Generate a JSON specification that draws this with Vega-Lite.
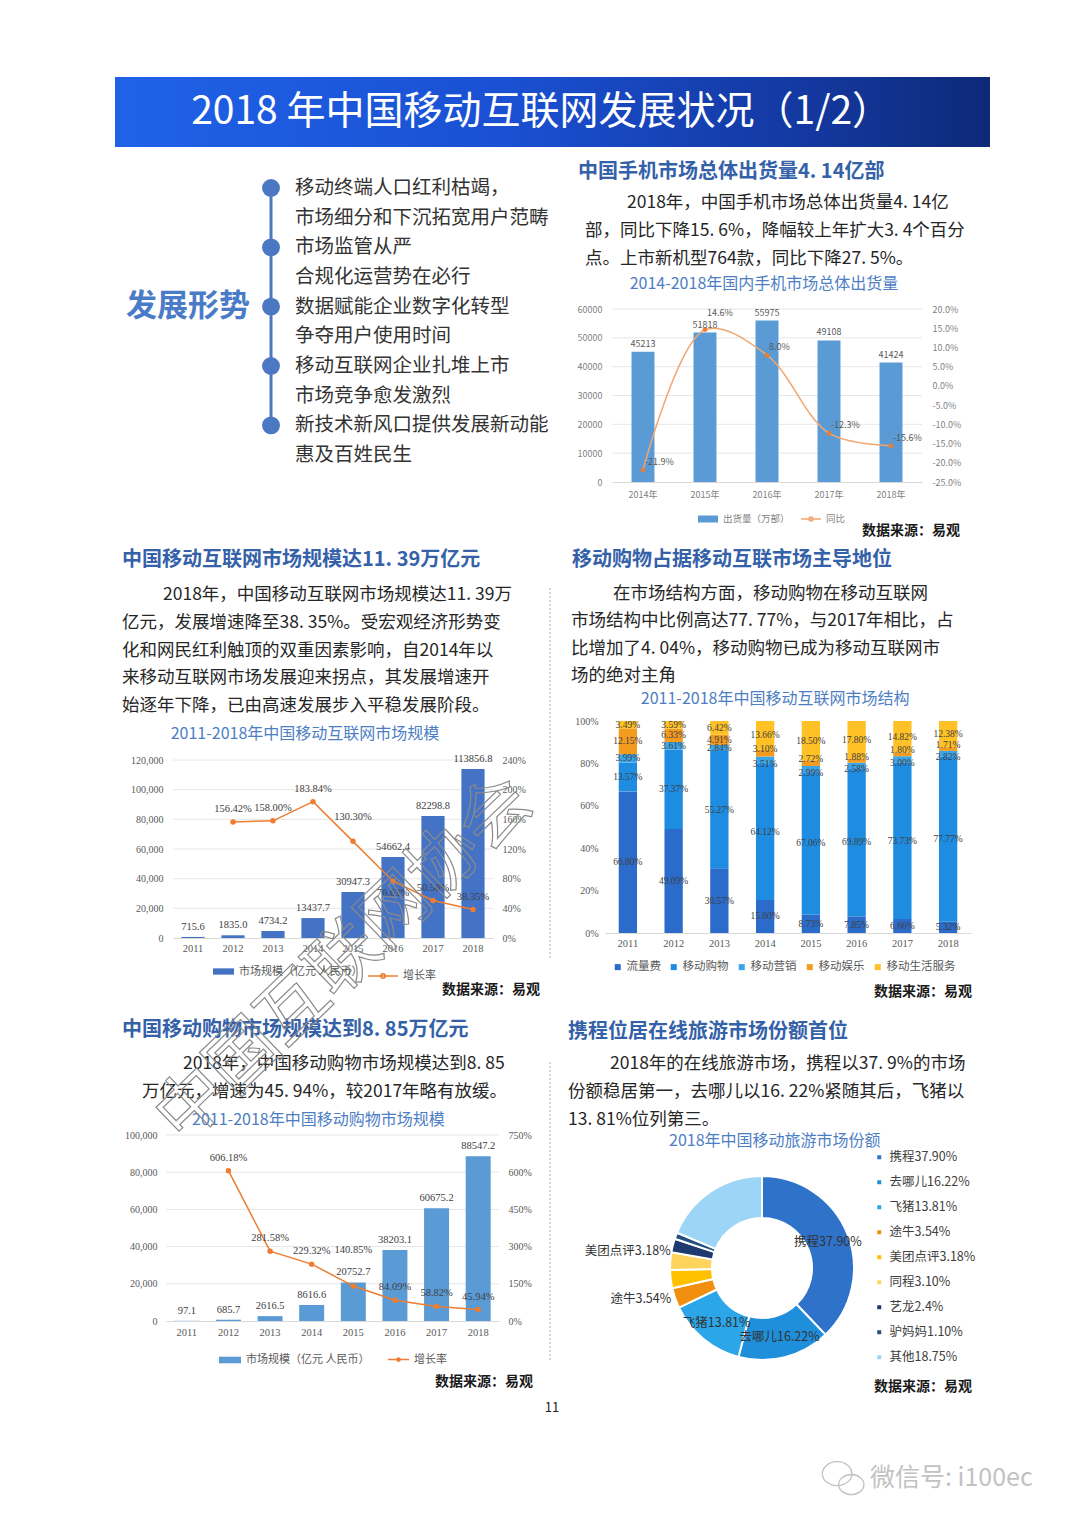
{
"$schema":"https://vega.github.io/schema/vega-lite/v6.json",
"width":1080,"height":1526,"autosize":{"type":"none"},"padding":0,"background":"#ffffff",
"config":{
 "view":{"stroke":null},
 "font":"Noto Sans CJK SC",
 "locale":{"number":{"decimal":".","thousands":",","grouping":[3],"currency":["",""],"minus":"-"}},
 "axis":{"grid":false,"ticks":false,"tickSize":0,"domain":false,"labelFont":"Noto Sans CJK SC","labelColor":"#7f7f7f","labelFontSize":9},
 "legend":{"padding":0,"labelFont":"Noto Sans CJK SC","labelColor":"#595959"},
 "text":{"font":"Noto Sans CJK SC"}
},
"datasets":{
 "trends":[{"i":0,"t":"移动终端人口红利枯竭，"},{"i":1,"t":"市场细分和下沉拓宽用户范畴"},{"i":2,"t":"市场监管从严"},{"i":3,"t":"合规化运营势在必行"},{"i":4,"t":"数据赋能企业数字化转型"},{"i":5,"t":"争夺用户使用时间"},{"i":6,"t":"移动互联网企业扎堆上市"},{"i":7,"t":"市场竞争愈发激烈"},{"i":8,"t":"新技术新风口提供发展新动能"},{"i":9,"t":"惠及百姓民生"}],
 "p1":[{"i":0,"t":"2018年，中国手机市场总体出货量4. 14亿"},{"i":1,"t":"部，同比下降15. 6%，降幅较上年扩大3. 4个百分"},{"i":2,"t":"点。上市新机型764款，同比下降27. 5%。"}],
 "p2":[{"i":0,"t":"2018年，中国移动互联网市场规模达11. 39万"},{"i":1,"t":"亿元，发展增速降至38. 35%。受宏观经济形势变"},{"i":2,"t":"化和网民红利触顶的双重因素影响，自2014年以"},{"i":3,"t":"来移动互联网市场发展迎来拐点，其发展增速开"},{"i":4,"t":"始逐年下降，已由高速发展步入平稳发展阶段。"}],
 "p3":[{"i":0,"t":"在市场结构方面，移动购物在移动互联网"},{"i":1,"t":"市场结构中比例高达77. 77%，与2017年相比，占"},{"i":2,"t":"比增加了4. 04%，移动购物已成为移动互联网市"},{"i":3,"t":"场的绝对主角"}],
 "p4":[{"i":0,"t":"2018年，中国移动购物市场规模达到8. 85"},{"i":1,"t":"万亿元，增速为45. 94%，较2017年略有放缓。"}],
 "p5":[{"i":0,"t":"2018年的在线旅游市场，携程以37. 9%的市场"},{"i":1,"t":"份额稳居第一，去哪儿以16. 22%紧随其后，飞猪以"},{"i":2,"t":"13. 81%位列第三。"}],
 "phone":[{"year":"2014年","ship":45213,"yoy":-0.219},{"year":"2015年","ship":51818,"yoy":0.146},{"year":"2016年","ship":55975,"yoy":0.080},{"year":"2017年","ship":49108,"yoy":-0.123},{"year":"2018年","ship":41424,"yoy":-0.156}],
 "mi":[{"year":"2011","v":715.6,"g":null},{"year":"2012","v":1835.0,"g":1.5642},{"year":"2013","v":4734.2,"g":1.5800},{"year":"2014","v":13437.7,"g":1.8384},{"year":"2015","v":30947.3,"g":1.3030},{"year":"2016","v":54662.4,"g":0.7663},{"year":"2017","v":82298.8,"g":0.5056},{"year":"2018","v":113856.8,"g":0.3835}],
 "shop":[{"year":"2011","v":97.1,"g":null},{"year":"2012","v":685.7,"g":6.0618},{"year":"2013","v":2616.5,"g":2.8158},{"year":"2014","v":8616.6,"g":2.2932},{"year":"2015","v":20752.7,"g":1.4085},{"year":"2016","v":38203.1,"g":0.8409},{"year":"2017","v":60675.2,"g":0.5882},{"year":"2018","v":88547.2,"g":0.4594}],
 "struct":[
  {"year":"2011","cat":"流量费","k":1,"v":0.6680},{"year":"2011","cat":"移动购物","k":2,"v":0.1357},{"year":"2011","cat":"移动营销","k":3,"v":0.0399},{"year":"2011","cat":"移动娱乐","k":4,"v":0.1215},{"year":"2011","cat":"移动生活服务","k":5,"v":0.0349},
  {"year":"2012","cat":"流量费","k":1,"v":0.4909},{"year":"2012","cat":"移动购物","k":2,"v":0.3737},{"year":"2012","cat":"移动营销","k":3,"v":0.0361},{"year":"2012","cat":"移动娱乐","k":4,"v":0.0633},{"year":"2012","cat":"移动生活服务","k":5,"v":0.0359},
  {"year":"2013","cat":"流量费","k":1,"v":0.3057},{"year":"2013","cat":"移动购物","k":2,"v":0.5527},{"year":"2013","cat":"移动营销","k":3,"v":0.0284},{"year":"2013","cat":"移动娱乐","k":4,"v":0.0491},{"year":"2013","cat":"移动生活服务","k":5,"v":0.0642},
  {"year":"2014","cat":"流量费","k":1,"v":0.1560},{"year":"2014","cat":"移动购物","k":2,"v":0.6412},{"year":"2014","cat":"移动营销","k":3,"v":0.0351},{"year":"2014","cat":"移动娱乐","k":4,"v":0.0310},{"year":"2014","cat":"移动生活服务","k":5,"v":0.1366},
  {"year":"2015","cat":"流量费","k":1,"v":0.0873},{"year":"2015","cat":"移动购物","k":2,"v":0.6706},{"year":"2015","cat":"移动营销","k":3,"v":0.0299},{"year":"2015","cat":"移动娱乐","k":4,"v":0.0272},{"year":"2015","cat":"移动生活服务","k":5,"v":0.1850},
  {"year":"2016","cat":"流量费","k":1,"v":0.0785},{"year":"2016","cat":"移动购物","k":2,"v":0.6989},{"year":"2016","cat":"移动营销","k":3,"v":0.0258},{"year":"2016","cat":"移动娱乐","k":4,"v":0.0188},{"year":"2016","cat":"移动生活服务","k":5,"v":0.1780},
  {"year":"2017","cat":"流量费","k":1,"v":0.0666},{"year":"2017","cat":"移动购物","k":2,"v":0.7373},{"year":"2017","cat":"移动营销","k":3,"v":0.0300},{"year":"2017","cat":"移动娱乐","k":4,"v":0.0180},{"year":"2017","cat":"移动生活服务","k":5,"v":0.1482},
  {"year":"2018","cat":"流量费","k":1,"v":0.0532},{"year":"2018","cat":"移动购物","k":2,"v":0.7777},{"year":"2018","cat":"移动营销","k":3,"v":0.0282},{"year":"2018","cat":"移动娱乐","k":4,"v":0.0171},{"year":"2018","cat":"移动生活服务","k":5,"v":0.1238}],
 "travel":[
  {"i":1,"lab":"携程37.90%","v":37.90,"inner":"携程37.90%","o1":"","o2":""},
  {"i":2,"lab":"去哪儿16.22%","v":16.22,"inner":"去哪儿16.22%","o1":"","o2":""},
  {"i":3,"lab":"飞猪13.81%","v":13.81,"inner":"飞猪13.81%","o1":"","o2":""},
  {"i":4,"lab":"途牛3.54%","v":3.54,"inner":"","o1":"途牛3.54%","o2":""},
  {"i":5,"lab":"美团点评3.18%","v":3.18,"inner":"","o1":"","o2":"美团点评3.18%"},
  {"i":6,"lab":"同程3.10%","v":3.10,"inner":"","o1":"","o2":""},
  {"i":7,"lab":"艺龙2.4%","v":2.4,"inner":"","o1":"","o2":""},
  {"i":8,"lab":"驴妈妈1.10%","v":1.10,"inner":"","o1":"","o2":""},
  {"i":9,"lab":"其他18.75%","v":18.75,"inner":"","o1":"","o2":""}]
},
"resolve":{"scale":{"x":"independent","y":"independent","color":"independent","theta":"independent"}},
"layer":[
 {"data":{"values":[{"t":"2018 年中国移动互联网发展状况（1/2）"}]},
  "layer":[
   {"mark":{"type":"rect","fill":{"gradient":"linear","x1":0,"y1":0,"x2":1,"y2":0,"stops":[{"offset":0,"color":"#1F62E8"},{"offset":0.45,"color":"#1A50D2"},{"offset":0.8,"color":"#13379E"},{"offset":1,"color":"#0D2A78"}]}},
    "encoding":{"x":{"datum":0,"type":"quantitative","scale":{"domain":[0,1],"range":[115,990],"nice":false},"axis":null},"x2":{"datum":1},
     "y":{"datum":0,"type":"quantitative","scale":{"domain":[0,1],"range":[77,147],"nice":false},"axis":null},"y2":{"datum":1}}},
   {"mark":{"type":"text","align":"center","baseline":"middle","fontSize":39,"color":"#ffffff"},
    "encoding":{"x":{"datum":0.487,"type":"quantitative","scale":{"domain":[0,1],"range":[115,990],"nice":false},"axis":null},
     "y":{"datum":0.5,"type":"quantitative","scale":{"domain":[0,1],"range":[77,147],"nice":false},"axis":null},"text":{"field":"t"}}}
  ]},
 {"layer":[
   {"data":{"values":[{"a":1}]},"mark":{"type":"rule","color":"#4A78C2","strokeWidth":3},
    "encoding":{"x":{"datum":0.467,"type":"quantitative","scale":{"domain":[0,1],"range":[250,295],"nice":false},"axis":null},
     "y":{"datum":0,"type":"quantitative","scale":{"domain":[0,9],"range":[188,455],"nice":false},"axis":null},"y2":{"datum":8}}},
   {"data":{"name":"trends"},"transform":[{"filter":"datum.i % 2 == 0"}],"mark":{"type":"point","filled":true,"size":320,"color":"#4A78C2","opacity":1},
    "encoding":{"x":{"datum":0.467,"type":"quantitative","scale":{"domain":[0,1],"range":[250,295],"nice":false},"axis":null},
     "y":{"field":"i","type":"quantitative","scale":{"domain":[0,9],"range":[188,455],"nice":false},"axis":null}}},
   {"data":{"name":"trends"},"mark":{"type":"text","align":"left","baseline":"middle","fontSize":19.5,"color":"#333333"},
    "encoding":{"x":{"datum":1,"type":"quantitative","scale":{"domain":[0,1],"range":[250,295],"nice":false},"axis":null},
     "y":{"field":"i","type":"quantitative","scale":{"domain":[0,9],"range":[188,455],"nice":false},"axis":null},"text":{"field":"t"}}},
   {"data":{"values":[{"t":"发展形势"}]},"mark":{"type":"text","align":"right","baseline":"middle","fontSize":31,"fontWeight":"bold","color":"#4A7BC8"},
    "encoding":{"x":{"datum":0,"type":"quantitative","scale":{"domain":[0,1],"range":[250,295],"nice":false},"axis":null},
     "y":{"datum":4,"type":"quantitative","scale":{"domain":[0,9],"range":[188,455],"nice":false},"axis":null},"text":{"field":"t"}}}
 ]},
 {"layer":[
   {"data":{"values":[{"t":"中国手机市场总体出货量4. 14亿部"}]},"mark":{"type":"text","align":"left","baseline":"middle","fontSize":20,"fontWeight":"bold","color":"#3461A8"},
    "encoding":{"x":{"datum":0,"type":"quantitative","scale":{"domain":[0,1],"range":[578,972],"nice":false},"axis":null},"y":{"datum":-1.107,"type":"quantitative","scale":{"domain":[0,1],"range":[203,231],"nice":false},"axis":null},"text":{"field":"t"}}},
   {"data":{"name":"p1"},"transform":[{"filter":"datum.i == 0"}],"mark":{"type":"text","align":"left","baseline":"middle","fontSize":17.5,"color":"#262626"},
    "encoding":{"x":{"datum":0.1244,"type":"quantitative","scale":{"domain":[0,1],"range":[578,972],"nice":false},"axis":null},"y":{"field":"i","type":"quantitative","scale":{"domain":[0,1],"range":[203,231],"nice":false},"axis":null},"text":{"field":"t"}}},
   {"data":{"name":"p1"},"transform":[{"filter":"datum.i > 0"}],"mark":{"type":"text","align":"left","baseline":"middle","fontSize":17.5,"color":"#262626"},
    "encoding":{"x":{"datum":0.018,"type":"quantitative","scale":{"domain":[0,1],"range":[578,972],"nice":false},"axis":null},"y":{"field":"i","type":"quantitative","scale":{"domain":[0,1],"range":[203,231],"nice":false},"axis":null},"text":{"field":"t"}}},
   {"data":{"values":[{"t":"2014-2018年国内手机市场总体出货量"}]},"mark":{"type":"text","align":"center","baseline":"middle","fontSize":16,"color":"#4D7EC4"},
    "encoding":{"x":{"datum":0.472,"type":"quantitative","scale":{"domain":[0,1],"range":[578,972],"nice":false},"axis":null},"y":{"datum":2.893,"type":"quantitative","scale":{"domain":[0,1],"range":[203,231],"nice":false},"axis":null},"text":{"field":"t"}}},
   {"data":{"values":[{"t":"数据来源：易观"}]},"mark":{"type":"text","align":"right","baseline":"middle","fontSize":14,"fontWeight":"bold","color":"#1a1a1a"},
    "encoding":{"x":{"datum":0.9695,"type":"quantitative","scale":{"domain":[0,1],"range":[578,972],"nice":false},"axis":null},"y":{"datum":11.71,"type":"quantitative","scale":{"domain":[0,1],"range":[203,231],"nice":false},"axis":null},"text":{"field":"t"}}}
 ]},
 {"layer":[
   {"data":{"values":[{"t":"中国移动互联网市场规模达11. 39万亿元"}]},"mark":{"type":"text","align":"left","baseline":"middle","fontSize":20,"fontWeight":"bold","color":"#3461A8"},
    "encoding":{"x":{"datum":0,"type":"quantitative","scale":{"domain":[0,1],"range":[122,522],"nice":false},"axis":null},"y":{"datum":-1.26,"type":"quantitative","scale":{"domain":[0,1],"range":[595,622.75],"nice":false},"axis":null},"text":{"field":"t"}}},
   {"data":{"name":"p2"},"transform":[{"filter":"datum.i == 0"}],"mark":{"type":"text","align":"left","baseline":"middle","fontSize":17.5,"color":"#262626"},
    "encoding":{"x":{"datum":0.1025,"type":"quantitative","scale":{"domain":[0,1],"range":[122,522],"nice":false},"axis":null},"y":{"field":"i","type":"quantitative","scale":{"domain":[0,1],"range":[595,622.75],"nice":false},"axis":null},"text":{"field":"t"}}},
   {"data":{"name":"p2"},"transform":[{"filter":"datum.i > 0"}],"mark":{"type":"text","align":"left","baseline":"middle","fontSize":17.5,"color":"#262626"},
    "encoding":{"x":{"datum":0,"type":"quantitative","scale":{"domain":[0,1],"range":[122,522],"nice":false},"axis":null},"y":{"field":"i","type":"quantitative","scale":{"domain":[0,1],"range":[595,622.75],"nice":false},"axis":null},"text":{"field":"t"}}},
   {"data":{"values":[{"t":"2011-2018年中国移动互联网市场规模"}]},"mark":{"type":"text","align":"center","baseline":"middle","fontSize":16,"color":"#4D7EC4"},
    "encoding":{"x":{"datum":0.4575,"type":"quantitative","scale":{"domain":[0,1],"range":[122,522],"nice":false},"axis":null},"y":{"datum":5.01,"type":"quantitative","scale":{"domain":[0,1],"range":[595,622.75],"nice":false},"axis":null},"text":{"field":"t"}}},
   {"data":{"values":[{"t":"数据来源：易观"}]},"mark":{"type":"text","align":"right","baseline":"middle","fontSize":14,"fontWeight":"bold","color":"#1a1a1a"},
    "encoding":{"x":{"datum":1.045,"type":"quantitative","scale":{"domain":[0,1],"range":[122,522],"nice":false},"axis":null},"y":{"datum":14.23,"type":"quantitative","scale":{"domain":[0,1],"range":[595,622.75],"nice":false},"axis":null},"text":{"field":"t"}}}
 ]},
 {"layer":[
   {"data":{"values":[{"t":"移动购物占据移动互联市场主导地位"}]},"mark":{"type":"text","align":"left","baseline":"middle","fontSize":20,"fontWeight":"bold","color":"#3461A8"},
    "encoding":{"x":{"datum":0.0025,"type":"quantitative","scale":{"domain":[0,1],"range":[571,972],"nice":false},"axis":null},"y":{"datum":-1.245,"type":"quantitative","scale":{"domain":[0,1],"range":[594,621.3],"nice":false},"axis":null},"text":{"field":"t"}}},
   {"data":{"name":"p3"},"transform":[{"filter":"datum.i == 0"}],"mark":{"type":"text","align":"left","baseline":"middle","fontSize":17.5,"color":"#262626"},
    "encoding":{"x":{"datum":0.1047,"type":"quantitative","scale":{"domain":[0,1],"range":[571,972],"nice":false},"axis":null},"y":{"field":"i","type":"quantitative","scale":{"domain":[0,1],"range":[594,621.3],"nice":false},"axis":null},"text":{"field":"t"}}},
   {"data":{"name":"p3"},"transform":[{"filter":"datum.i > 0"}],"mark":{"type":"text","align":"left","baseline":"middle","fontSize":17.5,"color":"#262626"},
    "encoding":{"x":{"datum":0,"type":"quantitative","scale":{"domain":[0,1],"range":[571,972],"nice":false},"axis":null},"y":{"field":"i","type":"quantitative","scale":{"domain":[0,1],"range":[594,621.3],"nice":false},"axis":null},"text":{"field":"t"}}},
   {"data":{"values":[{"t":"2011-2018年中国移动互联网市场结构"}]},"mark":{"type":"text","align":"center","baseline":"middle","fontSize":16,"color":"#4D7EC4"},
    "encoding":{"x":{"datum":0.509,"type":"quantitative","scale":{"domain":[0,1],"range":[571,972],"nice":false},"axis":null},"y":{"datum":3.85,"type":"quantitative","scale":{"domain":[0,1],"range":[594,621.3],"nice":false},"axis":null},"text":{"field":"t"}}},
   {"data":{"values":[{"t":"数据来源：易观"}]},"mark":{"type":"text","align":"right","baseline":"middle","fontSize":14,"fontWeight":"bold","color":"#1a1a1a"},
    "encoding":{"x":{"datum":1,"type":"quantitative","scale":{"domain":[0,1],"range":[571,972],"nice":false},"axis":null},"y":{"datum":14.58,"type":"quantitative","scale":{"domain":[0,1],"range":[594,621.3],"nice":false},"axis":null},"text":{"field":"t"}}}
 ]},
 {"layer":[
   {"data":{"values":[{"t":"中国移动购物市场规模达到8. 85万亿元"}]},"mark":{"type":"text","align":"left","baseline":"middle","fontSize":20,"fontWeight":"bold","color":"#3461A8"},
    "encoding":{"x":{"datum":0,"type":"quantitative","scale":{"domain":[0,1],"range":[122,522],"nice":false},"axis":null},"y":{"datum":-1.214,"type":"quantitative","scale":{"domain":[0,1],"range":[1064,1092],"nice":false},"axis":null},"text":{"field":"t"}}},
   {"data":{"name":"p4"},"transform":[{"filter":"datum.i == 0"}],"mark":{"type":"text","align":"left","baseline":"middle","fontSize":17.5,"color":"#262626"},
    "encoding":{"x":{"datum":0.1525,"type":"quantitative","scale":{"domain":[0,1],"range":[122,522],"nice":false},"axis":null},"y":{"field":"i","type":"quantitative","scale":{"domain":[0,1],"range":[1064,1092],"nice":false},"axis":null},"text":{"field":"t"}}},
   {"data":{"name":"p4"},"transform":[{"filter":"datum.i > 0"}],"mark":{"type":"text","align":"left","baseline":"middle","fontSize":17.5,"color":"#262626"},
    "encoding":{"x":{"datum":0.05,"type":"quantitative","scale":{"domain":[0,1],"range":[122,522],"nice":false},"axis":null},"y":{"field":"i","type":"quantitative","scale":{"domain":[0,1],"range":[1064,1092],"nice":false},"axis":null},"text":{"field":"t"}}},
   {"data":{"values":[{"t":"2011-2018年中国移动购物市场规模"}]},"mark":{"type":"text","align":"center","baseline":"middle","fontSize":16,"color":"#4D7EC4"},
    "encoding":{"x":{"datum":0.491,"type":"quantitative","scale":{"domain":[0,1],"range":[122,522],"nice":false},"axis":null},"y":{"datum":2.0,"type":"quantitative","scale":{"domain":[0,1],"range":[1064,1092],"nice":false},"axis":null},"text":{"field":"t"}}},
   {"data":{"values":[{"t":"数据来源：易观"}]},"mark":{"type":"text","align":"right","baseline":"middle","fontSize":14,"fontWeight":"bold","color":"#1a1a1a"},
    "encoding":{"x":{"datum":1.0275,"type":"quantitative","scale":{"domain":[0,1],"range":[122,522],"nice":false},"axis":null},"y":{"datum":11.36,"type":"quantitative","scale":{"domain":[0,1],"range":[1064,1092],"nice":false},"axis":null},"text":{"field":"t"}}}
 ]},
 {"layer":[
   {"data":{"values":[{"t":"携程位居在线旅游市场份额首位"}]},"mark":{"type":"text","align":"left","baseline":"middle","fontSize":20,"fontWeight":"bold","color":"#3461A8"},
    "encoding":{"x":{"datum":0,"type":"quantitative","scale":{"domain":[0,1],"range":[568,972],"nice":false},"axis":null},"y":{"datum":-1.143,"type":"quantitative","scale":{"domain":[0,1],"range":[1064,1092],"nice":false},"axis":null},"text":{"field":"t"}}},
   {"data":{"name":"p5"},"transform":[{"filter":"datum.i == 0"}],"mark":{"type":"text","align":"left","baseline":"middle","fontSize":17.5,"color":"#262626"},
    "encoding":{"x":{"datum":0.104,"type":"quantitative","scale":{"domain":[0,1],"range":[568,972],"nice":false},"axis":null},"y":{"field":"i","type":"quantitative","scale":{"domain":[0,1],"range":[1064,1092],"nice":false},"axis":null},"text":{"field":"t"}}},
   {"data":{"name":"p5"},"transform":[{"filter":"datum.i > 0"}],"mark":{"type":"text","align":"left","baseline":"middle","fontSize":17.5,"color":"#262626"},
    "encoding":{"x":{"datum":0,"type":"quantitative","scale":{"domain":[0,1],"range":[568,972],"nice":false},"axis":null},"y":{"field":"i","type":"quantitative","scale":{"domain":[0,1],"range":[1064,1092],"nice":false},"axis":null},"text":{"field":"t"}}},
   {"data":{"values":[{"t":"2018年中国移动旅游市场份额"}]},"mark":{"type":"text","align":"center","baseline":"middle","fontSize":16,"color":"#4D7EC4"},
    "encoding":{"x":{"datum":0.512,"type":"quantitative","scale":{"domain":[0,1],"range":[568,972],"nice":false},"axis":null},"y":{"datum":2.75,"type":"quantitative","scale":{"domain":[0,1],"range":[1064,1092],"nice":false},"axis":null},"text":{"field":"t"}}},
   {"data":{"values":[{"t":"数据来源：易观"}]},"mark":{"type":"text","align":"right","baseline":"middle","fontSize":14,"fontWeight":"bold","color":"#1a1a1a"},
    "encoding":{"x":{"datum":1,"type":"quantitative","scale":{"domain":[0,1],"range":[568,972],"nice":false},"axis":null},"y":{"datum":11.54,"type":"quantitative","scale":{"domain":[0,1],"range":[1064,1092],"nice":false},"axis":null},"text":{"field":"t"}}}
 ]},
 {"data":{"values":[{"v":10000},{"v":20000},{"v":30000},{"v":40000},{"v":50000},{"v":60000}]},"mark":{"type":"rule","color":"#e6e6e6","strokeWidth":1},
  "encoding":{"x":{"datum":0,"type":"quantitative","scale":{"domain":[0,1],"range":[612,922],"nice":false},"axis":null},"x2":{"datum":1},
   "y":{"field":"v","type":"quantitative","scale":{"domain":[0,60000],"range":[482,309],"nice":false},"axis":null}}},
 {"data":{"values":[{"v":20000},{"v":40000},{"v":60000},{"v":80000},{"v":100000},{"v":120000}]},"mark":{"type":"rule","color":"#e6e6e6","strokeWidth":1},
  "encoding":{"x":{"datum":0,"type":"quantitative","scale":{"domain":[0,1],"range":[173,493],"nice":false},"axis":null},"x2":{"datum":1},
   "y":{"field":"v","type":"quantitative","scale":{"domain":[0,120000],"range":[938,760],"nice":false},"axis":null}}},
 {"data":{"values":[{"v":20000},{"v":40000},{"v":60000},{"v":80000},{"v":100000}]},"mark":{"type":"rule","color":"#e6e6e6","strokeWidth":1},
  "encoding":{"x":{"datum":0,"type":"quantitative","scale":{"domain":[0,1],"range":[166,499],"nice":false},"axis":null},"x2":{"datum":1},
   "y":{"field":"v","type":"quantitative","scale":{"domain":[0,100000],"range":[1321,1135],"nice":false},"axis":null}}},
 {"data":{"name":"phone"},
  "encoding":{"x":{"field":"year","type":"nominal","sort":null,"scale":{"type":"band","range":[612,922],"paddingInner":0.63,"paddingOuter":0.315},
    "axis":{"orient":"bottom","offset":-1044,"title":null,"labelAngle":0,"domain":true,"domainColor":"#d9d9d9","labelPadding":8,"labelFontSize":9,"labelColor":"#7f7f7f"}}},
  "resolve":{"scale":{"y":"independent","color":"independent"}},
  "layer":[
   {"encoding":{"y":{"field":"ship","type":"quantitative","scale":{"domain":[0,60000],"range":[482,309],"nice":false},
      "axis":{"orient":"left","offset":-612,"title":null,"values":[0,10000,20000,30000,40000,50000,60000],"format":"d","labelPadding":10,"labelFontSize":9,"labelColor":"#7f7f7f"}}},
    "layer":[
     {"mark":{"type":"bar"},"encoding":{"color":{"datum":"出货量（万部）","type":"nominal","scale":{"range":["#5B9BD5"]},
       "legend":{"orient":"none","legendX":697,"legendY":508,"direction":"horizontal","title":null,"symbolType":"M-1,-0.35H1V0.35H-1Z","symbolSize":400,"labelFontSize":9.5,"labelColor":"#7f7f7f"}}}},
     {"mark":{"type":"text","baseline":"bottom","dy":-3,"fontSize":9,"color":"#595959"},"encoding":{"text":{"field":"ship","type":"quantitative","format":"d"}}}
    ]},
   {"encoding":{"y":{"field":"yoy","type":"quantitative","scale":{"domain":[-0.25,0.2],"range":[482,309],"nice":false},
      "axis":{"orient":"right","offset":-158,"title":null,"values":[-0.25,-0.2,-0.15,-0.1,-0.05,0,0.05,0.1,0.15,0.2],"format":".1%","labelPadding":10,"labelFontSize":9,"labelColor":"#7f7f7f"}}},
    "layer":[
     {"mark":{"type":"line","interpolate":"catmull-rom","strokeWidth":1.5},"encoding":{"color":{"datum":"同比","type":"nominal","scale":{"range":["#F1A672"]},
       "legend":{"orient":"none","legendX":800,"legendY":508,"direction":"horizontal","title":null,"symbolType":"M-1,0H1M-0.2,0A0.2,0.2,0,1,1,0.2,0A0.2,0.2,0,1,1,-0.2,0","symbolSize":400,"symbolStrokeWidth":1.5,"labelFontSize":9.5,"labelColor":"#7f7f7f"}}}},
     {"mark":{"type":"point","filled":true,"size":22,"color":"#ED7D31","opacity":1}},
     {"transform":[{"filter":"datum.year != '2015年'"}],"mark":{"type":"text","align":"left","dx":2,"dy":-8,"fontSize":9,"color":"#595959"},"encoding":{"text":{"field":"yoy","type":"quantitative","format":".1%"}}},
     {"transform":[{"filter":"datum.year == '2015年'"}],"mark":{"type":"text","align":"left","dx":2,"dy":-17,"fontSize":9,"color":"#595959"},"encoding":{"text":{"field":"yoy","type":"quantitative","format":".1%"}}}
    ]}
  ]},
 {"data":{"name":"mi"},
  "encoding":{"x":{"field":"year","type":"nominal","sort":null,"scale":{"type":"band","range":[173,493],"paddingInner":0.42,"paddingOuter":0.21},
    "axis":{"orient":"bottom","offset":-588,"title":null,"labelAngle":0,"domain":true,"domainColor":"#d9d9d9","labelPadding":5,"labelFont":"Liberation Serif","labelFontSize":10.5,"labelColor":"#595959"}}},
  "resolve":{"scale":{"y":"independent","color":"independent"}},
  "layer":[
   {"encoding":{"y":{"field":"v","type":"quantitative","scale":{"domain":[0,120000],"range":[938,760],"nice":false},
      "axis":{"orient":"left","offset":-173,"title":null,"values":[0,20000,40000,60000,80000,100000,120000],"format":",d","labelPadding":10,"labelFont":"Liberation Serif","labelFontSize":10,"labelColor":"#595959"}}},
    "layer":[
     {"mark":{"type":"bar"},"encoding":{"color":{"datum":"市场规模（亿元 人民币）","type":"nominal","scale":{"range":["#4472C4"]},
       "legend":{"orient":"none","legendX":212,"legendY":960,"direction":"horizontal","title":null,"symbolType":"M-1,-0.3H1V0.3H-1Z","symbolSize":441,"labelFontSize":11,"labelColor":"#595959"}}}},
     {"mark":{"type":"text","baseline":"bottom","dy":-5,"font":"Liberation Serif","fontSize":10.5,"color":"#404040"},"encoding":{"text":{"field":"v","type":"quantitative","format":".1f"}}}
    ]},
   {"encoding":{"y":{"field":"g","type":"quantitative","scale":{"domain":[0,2.4],"range":[938,760],"nice":false},
      "axis":{"orient":"right","offset":-587,"title":null,"values":[0,0.4,0.8,1.2,1.6,2.0,2.4],"format":".0%","labelPadding":9,"labelFont":"Liberation Serif","labelFontSize":10,"labelColor":"#595959"}}},
    "layer":[
     {"mark":{"type":"line","strokeWidth":1.5},"encoding":{"color":{"datum":"增长率","type":"nominal","scale":{"range":["#ED7D31"]},
       "legend":{"orient":"none","legendX":367,"legendY":960,"direction":"horizontal","title":null,"symbolType":"M-1,0H1M-0.15,0A0.15,0.15,0,1,1,0.15,0A0.15,0.15,0,1,1,-0.15,0","symbolSize":900,"symbolStrokeWidth":1.5,"labelFontSize":11,"labelColor":"#595959"}}}},
     {"mark":{"type":"point","filled":true,"size":30,"color":"#ED7D31","opacity":1}},
     {"transform":[{"filter":"datum.year != '2015' && datum.year != '2016'"}],"mark":{"type":"text","dy":-13,"font":"Liberation Serif","fontSize":10.5,"color":"#404040"},"encoding":{"text":{"field":"g","type":"quantitative","format":".2%"}}},
     {"transform":[{"filter":"datum.year == '2015'"}],"mark":{"type":"text","dy":-24,"font":"Liberation Serif","fontSize":10.5,"color":"#404040"},"encoding":{"text":{"field":"g","type":"quantitative","format":".2%"}}},
     {"transform":[{"filter":"datum.year == '2016'"}],"mark":{"type":"text","dy":12,"font":"Liberation Serif","fontSize":10.5,"color":"#404040"},"encoding":{"text":{"field":"g","type":"quantitative","format":".2%"}}}
    ]}
  ]},
 {"data":{"name":"struct"},
  "encoding":{"x":{"field":"year","type":"nominal","sort":null,"scale":{"type":"band","range":[605,971],"paddingInner":0.6,"paddingOuter":0.3},
    "axis":{"orient":"bottom","offset":-593,"title":null,"labelAngle":0,"domain":true,"domainColor":"#d9d9d9","labelPadding":5,"labelFont":"Liberation Serif","labelFontSize":10.5,"labelColor":"#595959"}},
   "y":{"field":"v","type":"quantitative","stack":"normalize","scale":{"domain":[0,1],"range":[933,721],"nice":false},
    "axis":{"orient":"left","offset":-605,"title":null,"values":[0,0.2,0.4,0.6,0.8,1],"format":".0%","labelPadding":7,"labelFont":"Liberation Serif","labelFontSize":10,"labelColor":"#595959"}},
   "order":{"field":"k","type":"quantitative","sort":"ascending"}},
  "layer":[
   {"mark":{"type":"bar"},"encoding":{"color":{"field":"cat","type":"nominal","scale":{"domain":["流量费","移动购物","移动营销","移动娱乐","移动生活服务"],"range":["#2B6CCB","#1E8CE0","#3BA5EA","#F39B1F","#FFC125"]},
     "legend":{"orient":"none","legendX":612,"legendY":961,"direction":"horizontal","title":null,"symbolType":"square","symbolSize":36,"labelFontSize":11.5,"labelColor":"#595959","columnPadding":7,"labelOffset":3}}}},
   {"mark":{"type":"text","font":"Liberation Serif","fontSize":9.5,"color":"#404040"},
    "encoding":{"y":{"field":"v","type":"quantitative","stack":"normalize","bandPosition":0.5},"detail":{"field":"cat"},
     "text":{"condition":{"test":"!((datum.k == 3 || datum.k == 4) && datum.year >= '2014')","field":"v","type":"quantitative","format":".2%"},"value":""}}},
   {"mark":{"type":"text","font":"Liberation Serif","fontSize":9.5,"color":"#404040","dy":3.5},
    "encoding":{"y":{"field":"v","type":"quantitative","stack":"normalize","bandPosition":0.5},"detail":{"field":"cat"},
     "text":{"condition":{"test":"datum.k == 3 && datum.year >= '2014'","field":"v","type":"quantitative","format":".2%"},"value":""}}},
   {"mark":{"type":"text","font":"Liberation Serif","fontSize":9.5,"color":"#404040","dy":-4},
    "encoding":{"y":{"field":"v","type":"quantitative","stack":"normalize","bandPosition":0.5},"detail":{"field":"cat"},
     "text":{"condition":{"test":"datum.k == 4 && datum.year >= '2014'","field":"v","type":"quantitative","format":".2%"},"value":""}}}
  ]},
 {"data":{"name":"shop"},
  "encoding":{"x":{"field":"year","type":"nominal","sort":null,"scale":{"type":"band","range":[166,499],"paddingInner":0.4,"paddingOuter":0.2},
    "axis":{"orient":"bottom","offset":-205,"title":null,"labelAngle":0,"domain":true,"domainColor":"#d9d9d9","labelPadding":6,"labelFont":"Liberation Serif","labelFontSize":10.5,"labelColor":"#595959"}}},
  "resolve":{"scale":{"y":"independent","color":"independent"}},
  "layer":[
   {"encoding":{"y":{"field":"v","type":"quantitative","scale":{"domain":[0,100000],"range":[1321,1135],"nice":false},
      "axis":{"orient":"left","offset":-166,"title":null,"values":[0,20000,40000,60000,80000,100000],"format":",d","labelPadding":9,"labelFont":"Liberation Serif","labelFontSize":10,"labelColor":"#595959"}}},
    "layer":[
     {"mark":{"type":"bar"},"encoding":{"color":{"datum":"市场规模（亿元 人民币）","type":"nominal","scale":{"range":["#5B9BD5"]},
       "legend":{"orient":"none","legendX":218,"legendY":1348,"direction":"horizontal","title":null,"symbolType":"M-1,-0.3H1V0.3H-1Z","symbolSize":484,"labelFontSize":11,"labelColor":"#595959"}}}},
     {"mark":{"type":"text","baseline":"bottom","dy":-5,"font":"Liberation Serif","fontSize":10.5,"color":"#404040"},"encoding":{"text":{"field":"v","type":"quantitative","format":".1f"}}}
    ]},
   {"encoding":{"y":{"field":"g","type":"quantitative","scale":{"domain":[0,7.5],"range":[1321,1135],"nice":false},
      "axis":{"orient":"right","offset":-581,"title":null,"values":[0,1.5,3,4.5,6,7.5],"format":".0%","labelPadding":9,"labelFont":"Liberation Serif","labelFontSize":10,"labelColor":"#595959"}}},
    "layer":[
     {"mark":{"type":"line","strokeWidth":1.5},"encoding":{"color":{"datum":"增长率","type":"nominal","scale":{"range":["#ED7D31"]},
       "legend":{"orient":"none","legendX":387,"legendY":1348,"direction":"horizontal","title":null,"symbolType":"M-1,0H1M-0.15,0A0.15,0.15,0,1,1,0.15,0A0.15,0.15,0,1,1,-0.15,0","symbolSize":441,"symbolStrokeWidth":1.5,"labelFontSize":11,"labelColor":"#595959"}}}},
     {"mark":{"type":"point","filled":true,"size":30,"color":"#ED7D31","opacity":1}},
     {"transform":[{"filter":"datum.year != '2015'"}],"mark":{"type":"text","dy":-13,"font":"Liberation Serif","fontSize":10.5,"color":"#404040"},"encoding":{"text":{"field":"g","type":"quantitative","format":".2%"}}},
     {"transform":[{"filter":"datum.year == '2015'"}],"mark":{"type":"text","dy":-36,"font":"Liberation Serif","fontSize":10.5,"color":"#404040"},"encoding":{"text":{"field":"g","type":"quantitative","format":".2%"}}}
    ]}
  ]},
 {"data":{"name":"travel"},
  "encoding":{
   "theta":{"field":"v","type":"quantitative","stack":true},
   "order":{"field":"i","type":"quantitative","sort":"ascending"},
   "x":{"datum":0,"type":"quantitative","scale":{"domain":[0,1],"range":[762,800],"nice":false},"axis":null},
   "y":{"datum":0,"type":"quantitative","scale":{"domain":[0,1],"range":[1268,1300],"nice":false},"axis":null}},
  "layer":[
   {"mark":{"type":"arc","radius":92,"innerRadius":50,"stroke":"#ffffff","strokeWidth":2},
    "encoding":{"color":{"field":"lab","type":"nominal","sort":null,
     "scale":{"domain":["携程37.90%","去哪儿16.22%","飞猪13.81%","途牛3.54%","美团点评3.18%","同程3.10%","艺龙2.4%","驴妈妈1.10%","其他18.75%"],"range":["#2E72C9","#1F8EDB","#2BA6E8","#F0900E","#FFC000","#FFD45C","#1E3A6E","#23507F","#9DD5F6"]},
     "legend":{"orient":"none","legendX":873,"legendY":1151,"direction":"vertical","title":null,"symbolType":"square","symbolSize":30,"labelFontSize":12.5,"labelColor":"#404040","rowPadding":12,"labelOffset":4}}}},
   {"mark":{"type":"text","radius":71,"fontSize":12.5,"color":"#333333"},"encoding":{"text":{"field":"inner"}}},
   {"mark":{"type":"text","radius":96,"align":"right","fontSize":12.5,"color":"#333333"},"encoding":{"text":{"field":"o1"}}},
   {"mark":{"type":"text","radius":92,"align":"right","dy":-28,"fontSize":12.5,"color":"#333333"},"encoding":{"text":{"field":"o2"}}}
  ]},
 {"data":{"values":[{"a":1}]},"mark":{"type":"rule","color":"#9DAFC8","strokeWidth":1,"strokeDash":[2,2]},
  "encoding":{"x":{"datum":0,"type":"quantitative","scale":{"domain":[0,1],"range":[550,560],"nice":false},"axis":null},
   "y":{"datum":0,"type":"quantitative","scale":{"domain":[0,1],"range":[588,960],"nice":false},"axis":null},"y2":{"datum":1}}},
 {"data":{"values":[{"a":1}]},"mark":{"type":"rule","color":"#9DAFC8","strokeWidth":1,"strokeDash":[2,2]},
  "encoding":{"x":{"datum":0,"type":"quantitative","scale":{"domain":[0,1],"range":[550,560],"nice":false},"axis":null},
   "y":{"datum":0,"type":"quantitative","scale":{"domain":[0,1],"range":[1062,1360],"nice":false},"axis":null},"y2":{"datum":1}}},
 {"data":{"values":[{"t":"11"}]},"mark":{"type":"text","align":"center","baseline":"middle","fontSize":13,"color":"#222222"},
  "encoding":{"x":{"datum":0,"type":"quantitative","scale":{"domain":[0,1],"range":[552,600],"nice":false},"axis":null},
   "y":{"datum":0,"type":"quantitative","scale":{"domain":[0,1],"range":[1408,1450],"nice":false},"axis":null},"text":{"field":"t"}}},
 {"data":{"values":[{"a":1}]},"mark":{"type":"point","shape":"M-0.95,-0.2A0.68,0.55,0,1,1,0.41,-0.2A0.68,0.55,0,1,1,-0.95,-0.2ZM-0.2,0.3A0.58,0.46,0,1,1,0.96,0.3A0.58,0.46,0,1,1,-0.2,0.3Z","size":1900,"filled":false,"color":"#c2c2c2","strokeWidth":1.3,"opacity":1},
  "encoding":{"x":{"datum":0,"type":"quantitative","scale":{"domain":[0,1],"range":[843,900],"nice":false},"axis":null},
   "y":{"datum":0,"type":"quantitative","scale":{"domain":[0,1],"range":[1478,1500],"nice":false},"axis":null}}},
 {"data":{"values":[{"t":"微信号: i100ec"}]},"mark":{"type":"text","align":"left","baseline":"middle","fontSize":25,"color":"#c2c2c2"},
  "encoding":{"x":{"datum":0,"type":"quantitative","scale":{"domain":[0,1],"range":[870,1000],"nice":false},"axis":null},
   "y":{"datum":0,"type":"quantitative","scale":{"domain":[0,1],"range":[1478,1500],"nice":false},"axis":null},"text":{"field":"t"}}},
 {"data":{"values":[{"t":"中国互联网协会"}]},"mark":{"type":"text","align":"center","baseline":"middle","angle":316,"fontSize":70,"fill":"transparent","stroke":"#8a8a8a","strokeWidth":1.2},
  "encoding":{"x":{"datum":0,"type":"quantitative","scale":{"domain":[0,1],"range":[345,400],"nice":false},"axis":null},
   "y":{"datum":0,"type":"quantitative","scale":{"domain":[0,1],"range":[960,1000],"nice":false},"axis":null},"text":{"field":"t"}}}
]
}
